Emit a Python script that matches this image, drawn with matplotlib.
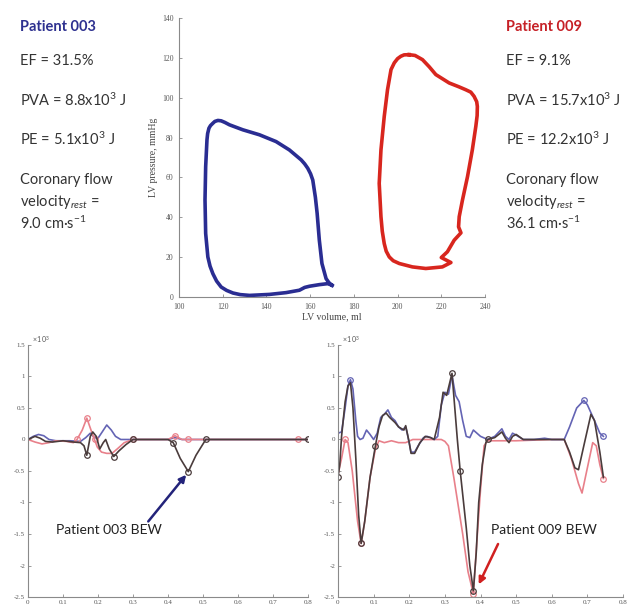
import matplotlib
matplotlib.use("Agg")
import matplotlib.pyplot as plt
from matplotlib.ticker import FuncFormatter

plt.rcParams['font.family'] = ['Lato', 'DejaVu Sans']
plt.rcParams['mathtext.fontset'] = 'custom'
plt.rcParams['mathtext.rm'] = 'Lato'
plt.rcParams['mathtext.it'] = 'Lato:italic'
plt.rcParams['mathtext.bf'] = 'Lato:bold'

W, H = 639, 607

# ---- PV loops (LV volume ml, LV pressure mmHg) ----
loop003_vol = [170.0, 168.6, 167.3, 165.4, 164.2, 163.2, 162.4, 161.2, 160.2, 158.9, 157.5,
               155.9, 150.5, 144.4, 136.8, 129.2, 123.1, 121.0, 119.3, 117.8, 116.4, 115.5,
               114.4, 113.7, 113.1, 112.8, 112.2, 111.9, 112.2, 113.2, 114.2, 115.5, 117.2,
               119.3, 121.8, 124.7, 128.0, 132.3, 141.4, 149.0, 155.1, 157.5, 159.7, 164.2,
               168.0, 170.0]
loop003_pres = [5.9, 7.2, 9.2, 16.8, 28.5, 42.0, 50.0, 58.7, 61.8, 64.6, 66.8,
                68.8, 73.8, 78.0, 81.4, 83.9, 86.4, 87.6, 88.4, 88.6, 88.1, 87.2,
                86.0, 84.7, 82.0, 78.9, 65.4, 48.7, 31.9, 20.1, 15.5, 11.7, 8.0,
                5.0, 3.3, 2.0, 1.2, 0.8, 1.3, 2.2, 3.4, 4.8, 5.4, 6.2,
                6.7, 5.9]

loop009_vol = [205.3, 208.0, 211.4, 214.5, 217.5, 223.6, 228.0, 231.2, 233.5, 235.0, 236.2,
               236.5, 236.4, 235.8, 234.2, 232.0, 229.7, 228.2, 227.9, 229.0, 225.9, 222.8,
               220.0, 224.4, 220.5, 212.9, 206.8, 200.8, 198.0, 196.2, 194.8, 193.9, 193.0,
               192.4, 191.6, 192.4, 193.9, 195.4, 197.0, 198.5, 200.0, 201.5, 203.0, 205.3]
loop009_pres = [121.6, 121.2, 119.1, 115.5, 111.6, 107.4, 105.5, 104.0, 102.8, 100.7, 98.0,
                95.6, 91.0, 85.6, 73.8, 60.4, 48.7, 40.3, 35.2, 32.2, 28.5, 22.7,
                19.8, 17.3, 15.1, 14.3, 15.1, 16.8, 18.2, 20.1, 23.0, 26.8, 33.0,
                40.3, 57.0, 73.8, 90.6, 104.0, 114.1, 117.5, 119.6, 120.8, 121.5, 121.6]

# ---- Patient 003 BEW traces (x10^3) ----
p003_blue_t = [0, 0.015, 0.03, 0.045, 0.06, 0.08, 0.12, 0.15, 0.165, 0.178, 0.19, 0.2, 0.212,
               0.225, 0.238, 0.25, 0.265, 0.3, 0.4, 0.42, 0.44, 0.5, 0.8]
p003_blue_v = [0, 0.05, 0.08, 0.06, 0.0, -0.02, -0.02, -0.03, 0.03, 0.1, 0.03, 0.02, 0.12,
               0.23, 0.15, 0.05, 0.0, 0.0, 0.0, 0.03, 0.0, 0.0, 0.0]
p003_dark_t = [0, 0.02, 0.035, 0.05, 0.07, 0.1, 0.13, 0.15, 0.16, 0.168, 0.178, 0.185, 0.195,
               0.205, 0.215, 0.222, 0.232, 0.245, 0.26, 0.28, 0.3, 0.4, 0.415, 0.435, 0.458,
               0.48, 0.508, 0.8]
p003_dark_v = [0, 0.05, 0.02, -0.03, -0.04, -0.02, -0.04, -0.05, -0.1, -0.25, 0.05, 0.12, 0.05,
               -0.15, -0.05, 0.0, -0.15, -0.27, -0.18, -0.08, 0.0, 0.0, -0.05, -0.3, -0.51,
               -0.25, 0.0, 0.0]
p003_dark_marks = [9, 17, 20, 22, 24, 26, 27]
p003_red_t = [0, 0.02, 0.04, 0.06, 0.08, 0.11, 0.13, 0.14, 0.155, 0.168, 0.18, 0.19, 0.198,
              0.21, 0.225, 0.24, 0.255, 0.275, 0.3, 0.4, 0.42, 0.44, 0.458, 0.5, 0.772, 0.8]
p003_red_v = [0, -0.04, -0.07, -0.05, -0.02, -0.03, -0.05, 0.0, 0.15, 0.34, 0.15, 0.0, -0.12,
              -0.2, -0.22, -0.22, -0.15, -0.05, 0.0, 0.0, 0.06, 0.0, 0.0, 0.0, 0.0, 0.0]
p003_red_marks = [7, 9, 11, 18, 20, 22, 24]

# ---- Patient 009 BEW traces (x10^3) ----
p009_blue_t = [0.0, 0.01, 0.02, 0.028, 0.035, 0.042, 0.05, 0.055, 0.062, 0.07, 0.08, 0.09, 0.1,
               0.11, 0.12, 0.13, 0.14, 0.15, 0.16, 0.17, 0.18, 0.19, 0.195, 0.205, 0.215, 0.225,
               0.24, 0.25, 0.26, 0.27, 0.28, 0.29, 0.30, 0.31, 0.32, 0.33, 0.34, 0.35, 0.36,
               0.37, 0.38, 0.39, 0.40, 0.42, 0.44, 0.46, 0.47, 0.48, 0.49, 0.50, 0.52, 0.55,
               0.58, 0.6, 0.635, 0.65, 0.67, 0.69, 0.70, 0.72, 0.735, 0.745]
p009_blue_v = [0.1, 0.12, 0.5, 0.85, 0.95, 0.8, 0.3, 0.05, 0.0, 0.02, 0.15, 0.08, 0.0,
               0.1, 0.35, 0.4, 0.47, 0.35, 0.3, 0.2, 0.15, 0.2, 0.08, -0.2, -0.2, -0.1,
               0.03, 0.05, 0.03, 0.0, 0.05, 0.55, 0.75, 0.72, 1.02, 0.7, 0.6, 0.3, 0.05,
               0.03, 0.15, 0.1, 0.05, 0.0, 0.05, 0.17, 0.05, 0.0, 0.1, 0.07, 0.0, 0.0,
               0.02, 0.0, 0.0, 0.2, 0.5, 0.62, 0.55, 0.3, 0.1, 0.05]
p009_blue_marks = [4, 57, 61]
p009_dark_t = [0.0, 0.005, 0.01, 0.02, 0.028, 0.035, 0.042, 0.05, 0.058, 0.065, 0.075, 0.09,
               0.105, 0.115, 0.125, 0.135, 0.145, 0.16, 0.17, 0.185, 0.19, 0.2, 0.205, 0.215,
               0.23, 0.245, 0.26, 0.27, 0.285, 0.295, 0.305, 0.32, 0.325, 0.335, 0.343, 0.36,
               0.37, 0.38, 0.388, 0.395, 0.405, 0.415, 0.42, 0.44, 0.46, 0.47, 0.48, 0.49,
               0.50, 0.52, 0.6, 0.635, 0.65, 0.665, 0.675, 0.69, 0.71, 0.72, 0.735, 0.745]
p009_dark_v = [-0.6, -0.4, 0.05, 0.6, 0.85, 0.9, 0.5, -0.3, -1.2, -1.65, -1.3, -0.6,
               -0.1, 0.2, 0.38, 0.42, 0.35, 0.27, 0.2, 0.15, 0.22, -0.05, -0.22, -0.22,
               -0.05, 0.05, 0.03, 0.0, 0.35, 0.75, 0.7, 1.05, 0.7, 0.0, -0.5, -1.4,
               -2.0, -2.4, -1.8, -1.0, -0.4, -0.05, 0.0, 0.03, 0.12, 0.02, -0.05, 0.05,
               0.08, 0.0, 0.0, 0.0, -0.2, -0.45, -0.48, -0.1, 0.4, 0.3, -0.2, -0.6]
p009_dark_marks = [0, 9, 12, 31, 34, 37, 42]
p009_red_t = [0.0, 0.01, 0.02, 0.028, 0.04, 0.055, 0.065, 0.075, 0.09, 0.105, 0.115, 0.13,
              0.15, 0.17, 0.19, 0.21, 0.25, 0.29, 0.30, 0.31, 0.325, 0.35, 0.365, 0.38, 0.39,
              0.4, 0.41, 0.42, 0.5, 0.6, 0.635, 0.655, 0.675, 0.685, 0.70, 0.715, 0.725,
              0.735, 0.745]
p009_red_v = [-0.55, -0.3, 0.0, -0.05, -0.5, -1.3, -1.65, -1.3, -0.6, -0.15, -0.02, -0.05,
              -0.02, -0.05, -0.05, 0.0, 0.0, 0.0, -0.03, -0.1, -0.6, -1.5, -2.1, -2.45, -1.6,
              -0.8, -0.1, -0.02, -0.02, 0.0, 0.0, -0.3, -0.7, -0.85, -0.45, -0.05, -0.1,
              -0.4, -0.62]
p009_red_marks = [2, 6, 23, 38]

bottom_yticks = [1.5, 1, 0.5, 0, -0.5, -1, -1.5, -2, -2.5]
bottom_xticks = [0, 0.1, 0.2, 0.3, 0.4, 0.5, 0.6, 0.7, 0.8]

BLUE_LOOP = '#2a2d92'
RED_LOOP = '#d8261e'
C_BLUE = '#6464b4'
C_DARK = '#4a3c3c'
C_RED = '#e8808a'
AX_GRAY = '#8a8a8a'
TXT = '#333333'


def add_ax(fig, l, t, r, b):
    return fig.add_axes([l / W, 1 - b / H, (r - l) / W, (b - t) / H])


def style_axes(ax):
    for s in ['top', 'right']:
        ax.spines[s].set_visible(False)
    for s in ['left', 'bottom']:
        ax.spines[s].set_color(AX_GRAY)
        ax.spines[s].set_linewidth(0.8)
    ax.tick_params(direction='in', length=2.5, width=0.6, color=AX_GRAY,
                   labelsize=5.5, labelcolor='#555555', pad=2)
    ax.tick_params(axis='x', pad=4)
    for lab in ax.get_xticklabels() + ax.get_yticklabels():
        lab.set_family('Liberation Serif')


def ftext(x, y, s, **kw):
    fig.text(x / W, 1 - y / H, s, va='center', ha='left', **kw)


fig = plt.figure(figsize=(W / 100, H / 100), dpi=100)

# ---- top: PV loops ----
ax = add_ax(fig, 179, 18, 485, 297)
ax.plot(loop003_vol, loop003_pres, color=BLUE_LOOP, lw=2.6, solid_joinstyle='round')
ax.plot(loop009_vol, loop009_pres, color=RED_LOOP, lw=2.6, solid_joinstyle='round')
ax.set_xlim(100, 240)
ax.set_ylim(0, 140)
ax.set_xticks(range(100, 241, 20))
ax.set_yticks(range(0, 141, 20))
style_axes(ax)
ax.tick_params(axis='y', pad=4)
ax.set_xlabel('LV volume, ml', family='Liberation Serif', fontsize=7, color='#444444', labelpad=1)
ax.set_ylabel('LV pressure, mmHg', family='Liberation Serif', fontsize=7, color='#444444', labelpad=3)

# ---- side text ----
fs = 10.5
for x0, name, col, ef, pva, pe, cfv in [
        (20, 'Patient 003', '#2e3190', '31.5%', '8.8', '5.1', '9.0'),
        (506, 'Patient 009', '#c62026', '9.1%', '15.7', '12.2', '36.1')]:
    ftext(x0, 27, name, color=col, fontsize=fs, fontweight='bold')
    ftext(x0, 61, 'EF = ' + ef, color=TXT, fontsize=fs)
    ftext(x0, 100, 'PVA = ' + pva + 'x10$^{3}$ J', color=TXT, fontsize=fs)
    ftext(x0, 139, 'PE = ' + pe + 'x10$^{3}$ J', color=TXT, fontsize=fs)
    ftext(x0, 180, 'Coronary flow', color=TXT, fontsize=fs)
    ftext(x0, 202, r'velocity$_{\mathit{rest}}$ =', color=TXT, fontsize=fs)
    ftext(x0, 223, cfv + ' cm·s$^{-1}$', color=TXT, fontsize=fs)


def bew_panel(l, r, series):
    a = add_ax(fig, l, 345, r, 597)
    for t, v, c, marks in series:
        a.plot(t, v, color=c, lw=1.2, marker='o', markersize=4, mfc='none',
               mec=c, mew=0.9, markevery=marks if marks else [])
    a.set_xlim(0, 0.8)
    a.set_ylim(-2.5, 1.5)
    a.set_xticks(bottom_xticks)
    a.set_yticks(bottom_yticks)
    fmt = FuncFormatter(lambda val, pos: '%g' % val)
    a.xaxis.set_major_formatter(fmt)
    a.yaxis.set_major_formatter(fmt)
    style_axes(a)
    a.tick_params(labelsize=5)
    a.tick_params(axis='x', pad=2)
    a.text(0.015, 1.0, r'$\times\,10^{3}$', transform=a.transAxes, fontsize=5,
           color='#555555', va='bottom', ha='left')
    return a


axl = bew_panel(28, 308, [
    (p003_blue_t, p003_blue_v, C_BLUE, None),
    (p003_red_t, p003_red_v, C_RED, p003_red_marks),
    (p003_dark_t, p003_dark_v, C_DARK, p003_dark_marks),
])
axl.annotate('Patient 003 BEW', xy=(0.452, -0.56), xytext=(0.08, -1.44),
             fontsize=10, color='#222222', va='center', ha='left',
             arrowprops=dict(arrowstyle='-|>', color='#23237a', lw=1.8,
                             mutation_scale=10, shrinkA=0, shrinkB=0,
                             relpos=(0.85, 1.0)))

axr = bew_panel(338, 623, [
    (p009_red_t, p009_red_v, C_RED, p009_red_marks),
    (p009_blue_t, p009_blue_v, C_BLUE, p009_blue_marks),
    (p009_dark_t, p009_dark_v, C_DARK, p009_dark_marks),
])
axr.annotate('Patient 009 BEW', xy=(0.395, -2.3), xytext=(0.43, -1.44),
             fontsize=10, color='#222222', va='center', ha='left',
             arrowprops=dict(arrowstyle='-|>', color='#d02020', lw=1.8,
                             mutation_scale=10, shrinkA=4, shrinkB=0,
                             relpos=(0.1, 0.0)))

fig.savefig('out.png', dpi=100)
